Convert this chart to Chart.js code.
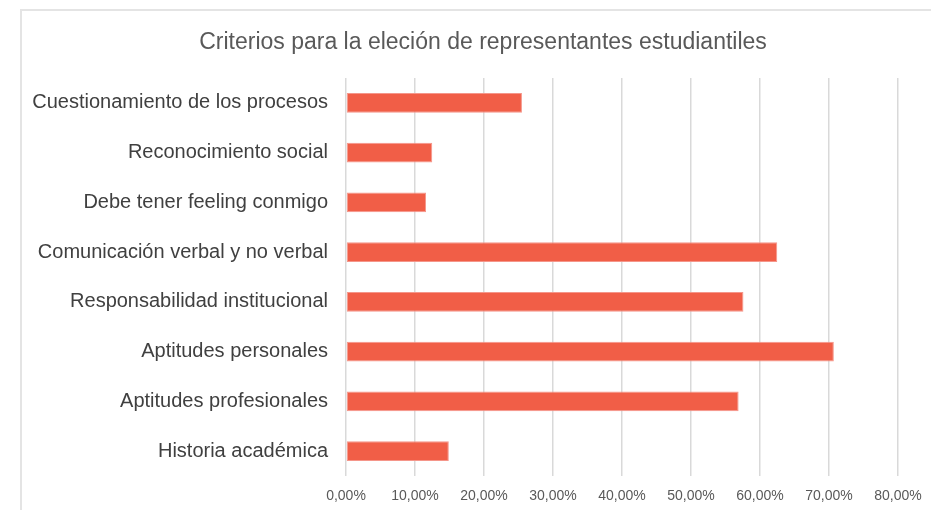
<!DOCTYPE html>
<html>
<head>
<meta charset="utf-8">
<script src="https://cdn.jsdelivr.net/npm/chart.js@4/dist/chart.umd.min.js"></script>
<style>
    body { margin: 0; background: #fff; }
    #frame { position: absolute; left: 20px; top: 9px; width: 960px; height: 560px; border-left: 2px solid #e4e4e4; border-top: 2px solid #e4e4e4; }
    #wrap { position: absolute; left: 0; top: 0; width: 931px; height: 510px; }
</style>
</head>
<body>
<div id="frame"></div>
<div id="wrap"><canvas id="chartBar"></canvas></div>
<script>
// datos
const categorias = [
    'Cuestionamiento de los procesos',
    'Reconocimiento social',
    'Debe tener feeling conmigo',
    'Comunicación verbal y no verbal',
    'Responsabilidad institucional',
    'Aptitudes personales',
    'Aptitudes profesionales',
    'Historia académica'
];
const porcentajes = [25.5, 12.5, 11.6, 62.5, 57.6, 70.7, 56.9, 14.9];
const ticksX = [0, 10, 20, 30, 40, 50, 60, 70, 80];
const titulo = 'Criterios para la eleción de representantes estudiantiles';

function formatPct(v) {
    return Number(v).toFixed(2).replace('.', ',') + '%';
}

//==========Titulo (centrado sobre el marco, no sobre el canvas)===========
const tituloPlugin = {
    id: 'tituloPlugin',
    afterDraw: function (chart) {
        const c = chart.ctx;
        c.save();
        c.fillStyle = '#595959';
        c.font = '23px "Liberation Sans"';
        c.textAlign = 'center';
        c.textBaseline = 'middle';
        c.fillText(titulo, 483, 43);
        c.restore();
    }
};

const ctx = document.getElementById('chartBar');
new Chart(ctx, {
    type: 'bar',
    data: {
        labels: categorias,
        datasets: [{
            data: porcentajes,
            backgroundColor: '#F15E47',
            borderColor: '#F5968A',
            borderWidth: 1,
            borderSkipped: false,
            barPercentage: 0.4,
            categoryPercentage: 1
        }]
    },
    plugins: [tituloPlugin],
    options: {
        indexAxis: 'y',
        responsive: true,
        maintainAspectRatio: false,
        animation: false,
        layout: { padding: { left: 25, right: 33, top: 78, bottom: 5 } },
        plugins: {
            legend: { display: false },
            tooltip: { enabled: false },
            title: { display: false }
        },
        scales: {
            x: {
                min: ticksX[0],
                max: ticksX[ticksX.length - 1],
                afterBuildTicks: function (scale) {
                    scale.ticks = ticksX.map(function (v) { return { value: v }; });
                },
                afterFit: function (scale) {
                    scale.height = 29;
                    scale.paddingLeft = 0;
                    scale.paddingRight = 0;
                },
                border: { display: false },
                grid: { color: '#d9d9d9', lineWidth: 1.5, drawTicks: false },
                ticks: {
                    padding: 12,
                    color: '#595959',
                    font: { family: 'Liberation Sans', size: 14 },
                    maxRotation: 0,
                    callback: function (v) { return formatPct(v); }
                }
            },
            y: {
                afterFit: function (scale) { scale.width = 346 - 25; },
                border: { display: false },
                grid: { display: false, drawTicks: false },
                ticks: {
                    padding: 18,
                    color: '#404040',
                    font: { family: 'Liberation Sans', size: 20 }
                }
            }
        }
    }
});
</script>
</body>
</html>
